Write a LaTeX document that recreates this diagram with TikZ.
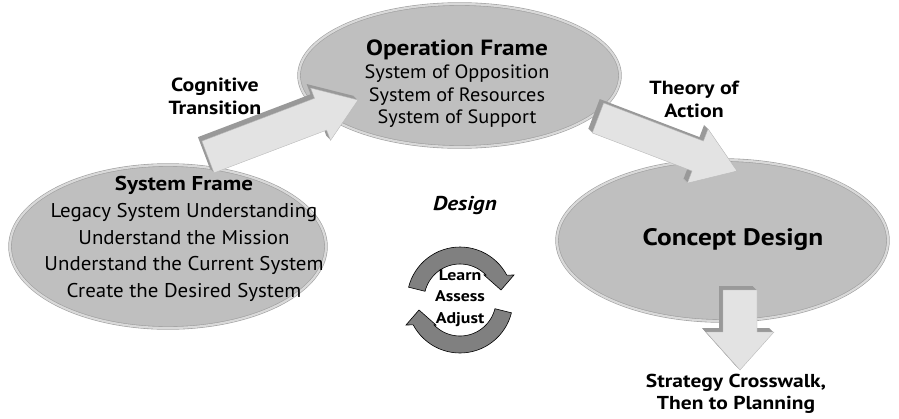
\documentclass[tikz,border=0pt]{standalone}
\usepackage{fontspec}
\setmainfont{PT Sans}[FakeStretch=1.05, BoldFeatures={FakeStretch=1.15}, BoldItalicFeatures={FakeStretch=1.15}]
\usetikzlibrary{shapes.geometric,calc}

% fat 3d arrow: tail, tip, shaft half width, head half width, head length
\newcommand{\fatarrow}[5]{%
  \coordinate (hb) at ($(#2)!#5pt!(#1)$);
  \coordinate (fa1) at ($(#1)!#3pt!90:(#2)$);
  \coordinate (fa2) at ($(hb)!#3pt!90:(#2)$);
  \coordinate (fa3) at ($(hb)!#4pt!90:(#2)$);
  \coordinate (fa5) at ($(hb)!#4pt!-90:(#2)$);
  \coordinate (fa6) at ($(hb)!#3pt!-90:(#2)$);
  \coordinate (fa7) at ($(#1)!#3pt!-90:(#2)$);
  \foreach \s in {4,3,2,1}
    \fill[arside] ($(fa1)+(-\s,-\s)$) -- ($(fa2)+(-\s,-\s)$) -- ($(fa3)+(-\s,-\s)$)
      -- ($(#2)+(-\s,-\s)$) -- ($(fa5)+(-\s,-\s)$) -- ($(fa6)+(-\s,-\s)$) -- ($(fa7)+(-\s,-\s)$) -- cycle;
  \draw[arface] (fa1) -- (fa2) -- (fa3) -- (#2) -- (fa5) -- (fa6) -- (fa7) -- cycle;
}

\begin{document}
\begin{tikzpicture}[x=1pt, y=-1pt,
  frame/.style={ellipse, draw=gray!75, double=gray!30, double distance=2.2pt, line width=0.6pt, fill=gray!50, inner sep=0pt},
  arside/.style={fill=gray!80},
  arface/.style={fill=gray!22, draw=gray!55, line width=0.4pt},
  body/.style={align=center, inner sep=0pt},
  lbl/.style={align=center, inner sep=0pt, font=\bfseries\fontsize{19}{23}\selectfont},
  cyc/.style={fill=gray, draw=black, line width=0.6pt}]
  \useasboundingbox (0,0) rectangle (899,418);

  % frames
  \node[frame, minimum width=316, minimum height=163] (sysframe) at (168,246.5) {};
  \node[frame, minimum width=321, minimum height=143] (opframe) at (459.5,75.5) {};
  \node[frame, minimum width=331, minimum height=161] (concept) at (722.5,240.5) {};

  \node[body, font=\fontsize{19.9}{26.6}\selectfont] (systext) at (184,239)
    {{\bfseries\fontsize{20}{26.6}\selectfont System Frame}\\Legacy System Understanding\\Understand the Mission\\Understand the Current System\\Create the Desired System};
  \node[body, font=\fontsize{19.3}{22.7}\selectfont] (optext) at (457,84)
    {{\bfseries\fontsize{22}{22.7}\selectfont Operation Frame}\\System of Opposition\\System of Resources\\System of Support};
  \node[body, font=\bfseries\fontsize{23.8}{26}\selectfont] (context) at (733,240) {Concept Design};

  % connectors
  \coordinate (cogtail) at (208,157);
  \coordinate (cogtip) at (358,100);
  \coordinate (thtail) at (598,118);
  \coordinate (thtip) at (737,171);
  \coordinate (dntail) at (740,290);
  \coordinate (dntip) at (740,370);
  \fatarrow{cogtail}{cogtip}{17}{28}{40}
  \fatarrow{thtail}{thtip}{16}{29}{42}
  \fatarrow{dntail}{dntip}{17}{34}{38}

  \node[lbl] (cog) at (215,96.5) {Cognitive\\Transition};
  \node[lbl] (theory) at (694,99) {Theory of\\Action};
  \node[lbl, font=\bfseries\fontsize{18.7}{22}\selectfont] (strategy) at (736,394) {Strategy Crosswalk,\\Then to Planning};
  \node[lbl, font=\bfseries\itshape\fontsize{20}{22}\selectfont] (design) at (465,206) {Design};

  % learn cycle
  \draw[cyc] plot[domain=166:28, samples=30] ({460+53*cos(\x)}, {300-53*sin(\x)})
    -- (514,275) -- (501,290) -- (484,275)
    -- plot[domain=44:166, samples=30] ({460+36*cos(\x)}, {300-36*sin(\x)}) -- cycle;
  \draw[cyc] plot[domain=-14:-152, samples=30] ({460+53*cos(\x)}, {300-53*sin(\x)})
    -- (406,325) -- (419,310) -- (436,325)
    -- plot[domain=-136:-14, samples=30] ({460+36*cos(\x)}, {300-36*sin(\x)}) -- cycle;
  \node[lbl, font=\bfseries\fontsize{15.5}{21.5}\selectfont] (cycle) at (460,298) {Learn\\Assess\\Adjust};
\end{tikzpicture}
\end{document}
